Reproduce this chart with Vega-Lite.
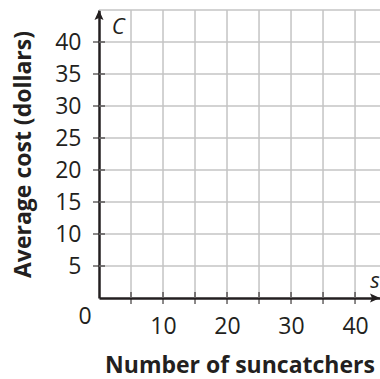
{
  "$schema": "https://vega.github.io/schema/vega-lite/v6.json",
  "width": 281,
  "height": 288,
  "autosize": {"type": "none"},
  "padding": {"left": 99, "top": 10, "right": 0, "bottom": 81},
  "background": "white",
  "config": {
    "view": {"stroke": null},
    "font": "Open Sans",
    "axis": {
      "labelFont": "Open Sans",
      "labelFontSize": 23,
      "labelColor": "#231f20",
      "titleFont": "Open Sans",
      "titleFontSize": 23,
      "titleFontWeight": "bold",
      "titleColor": "#231f20",
      "domainColor": "#231f20",
      "domainWidth": 2.5,
      "grid": false,
      "ticks": false,
      "labelOverlap": false
    },
    "axisY": {"labelOverlap": false, "grid": false}
  },
  "datasets": {
    "xgrid": [{"s": 5}, {"s": 10}, {"s": 15}, {"s": 20}, {"s": 25}, {"s": 30}, {"s": 35}, {"s": 40}],
    "ygrid": [{"C": 5}, {"C": 10}, {"C": 15}, {"C": 20}, {"C": 25}, {"C": 30}, {"C": 35}, {"C": 40}, {"C": 45}]
  },
  "layer": [
    {
      "data": {"name": "ygrid"},
      "mark": {"type": "rule", "color": "#c4c4c4", "strokeWidth": 1.5},
      "encoding": {
        "y": {
          "field": "C", "type": "quantitative",
          "scale": {"domain": [0, 45], "nice": false},
          "axis": {
            "values": [5, 10, 15, 20, 25, 30, 35, 40],
            "labelPadding": 18,
            "labelOverlap": false,
            "labelFlush": false,
            "grid": false,
            "title": "Average cost (dollars)",
            "titlePadding": 19
          }
        }
      }
    },
    {
      "data": {"name": "xgrid"},
      "mark": {"type": "rule", "color": "#c4c4c4", "strokeWidth": 1.5},
      "encoding": {
        "x": {
          "field": "s", "type": "quantitative",
          "scale": {"domain": [0, 43.9], "nice": false, "zero": true},
          "axis": {
            "values": [10, 20, 30, 40],
            "labelPadding": 17,
            "labelOverlap": false,
            "labelFlush": false,
            "grid": false,
            "title": "Number of suncatchers",
            "titlePadding": 16
          }
        }
      }
    },
    {
      "data": {"name": "ygrid"},
      "mark": {"type": "tick", "orient": "horizontal", "color": "#231f20", "thickness": 1.5, "size": 12, "clip": false},
      "transform": [{"filter": "datum.C <= 40"}],
      "encoding": {
        "x": {"datum": 0, "type": "quantitative"},
        "y": {"field": "C", "type": "quantitative"}
      }
    },
    {
      "data": {"name": "xgrid"},
      "mark": {"type": "tick", "orient": "vertical", "color": "#231f20", "thickness": 1.5, "size": 12, "clip": false},
      "encoding": {
        "x": {"field": "s", "type": "quantitative"},
        "y": {"datum": 0, "type": "quantitative"}
      }
    },
    {
      "data": {"values": [{"k": "up"}]},
      "mark": {"type": "point", "shape": "M0,0L-0.45,1L0,0.8L0.45,1Z", "filled": true, "color": "#231f20", "opacity": 1, "size": 400, "clip": false},
      "encoding": {
        "x": {"datum": 0, "type": "quantitative"},
        "y": {"datum": 45, "type": "quantitative"}
      }
    },
    {
      "data": {"values": [{"k": "right"}]},
      "mark": {"type": "point", "shape": "M0,0L-1,-0.45L-0.8,0L-1,0.45Z", "filled": true, "color": "#231f20", "opacity": 1, "size": 400, "clip": false},
      "encoding": {
        "x": {"datum": 43.9, "type": "quantitative"},
        "y": {"datum": 0, "type": "quantitative"}
      }
    },
    {
      "data": {"values": [{"t": "C"}]},
      "mark": {"type": "text", "font": "Open Sans", "fontStyle": "italic", "fontSize": 22, "color": "#231f20", "align": "center", "baseline": "middle"},
      "encoding": {
        "x": {"datum": 3, "type": "quantitative"},
        "y": {"datum": 42.3, "type": "quantitative"},
        "text": {"field": "t"}
      }
    },
    {
      "data": {"values": [{"t": "s"}]},
      "mark": {"type": "text", "font": "Open Sans", "fontStyle": "italic", "fontSize": 22, "color": "#231f20", "align": "center", "baseline": "middle"},
      "encoding": {
        "x": {"datum": 43.1, "type": "quantitative"},
        "y": {"datum": 2.7, "type": "quantitative"},
        "text": {"field": "t"}
      }
    },
    {
      "data": {"values": [{"t": "0"}]},
      "mark": {"type": "text", "font": "Open Sans", "fontSize": 23, "color": "#231f20", "align": "center", "baseline": "middle", "dx": -14, "dy": 19, "clip": false},
      "encoding": {
        "x": {"datum": 0, "type": "quantitative"},
        "y": {"datum": 0, "type": "quantitative"},
        "text": {"field": "t"}
      }
    }
  ]
}
